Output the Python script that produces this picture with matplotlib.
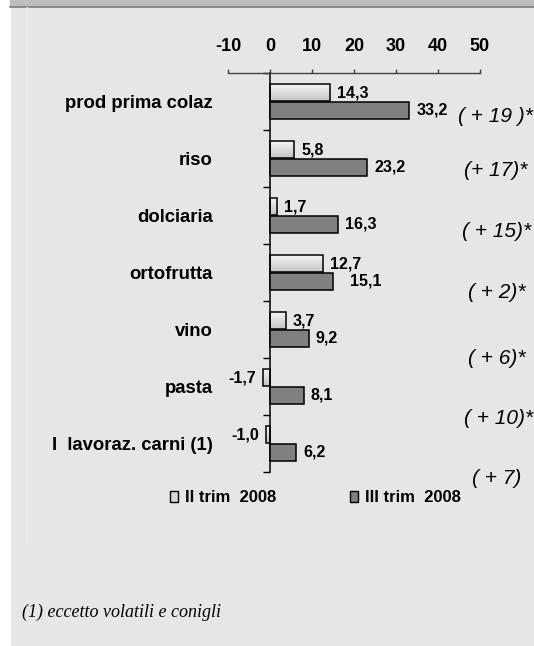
import numpy as np
import matplotlib.pyplot as plt
from matplotlib.patches import Rectangle, Patch
from matplotlib.lines import Line2D
from matplotlib.colors import LinearSegmentedColormap

plt.rcParams['font.family'] = ['Liberation Sans', 'DejaVu Sans']

# data
categories = ['prod prima colaz', 'riso', 'dolciaria', 'ortofrutta', 'vino',
              'pasta', 'I  lavoraz. carni (1)']
q2_2008 = [14.3, 5.8, 1.7, 12.7, 3.7, -1.7, -1.0]
q3_2008 = [33.2, 23.2, 16.3, 15.1, 9.2, 8.1, 6.2]
changes = ['( + 19 )*', '(+ 17)*', '( + 15)*', '( + 2)*', '( + 6)*',
           '( + 10)*', '( + 7)']
series_names = ['II trim  2008', 'III trim  2008']
xticks = [-10, 0, 10, 20, 30, 40, 50]
footnote = '(1) eccetto volatili e conigli'

# layout (pixels from top-left of the picture)
W, H = 534, 646
change_pos = [(458, 117), (464, 171), (462, 232), (468, 293),
              (468, 358), (464, 418), (472, 479)]

bg = '#e6e6e6'
light = '#d6d6d6'
dark = '#808080'


def px(x, y):
    return x / W, 1 - y / H


fig = plt.figure(figsize=(W / 100, H / 100), dpi=100)
fig.patch.set_facecolor(bg)

# frame decorations of the page
fig.patches.append(Rectangle((0, 0), 10 / W, 1, transform=fig.transFigure,
                             color='white', zorder=0))
fig.patches.append(Rectangle(px(10, 6), 1, 6 / H, transform=fig.transFigure,
                             color='#bdbdbd', zorder=0))
fig.lines.append(Line2D([10 / W, 1], [1 - 6.5 / H] * 2, transform=fig.transFigure,
                        color='#7f7f7f', lw=1.2))
fig.lines.append(Line2D([26.5 / W] * 2, [1 - 7 / H, 1 - 542 / H],
                        transform=fig.transFigure, color='#ededed', lw=1))

ax_l, ax_t, ax_r, ax_b = 228, 73, 480, 472
ax = fig.add_axes([ax_l / W, 1 - ax_b / H, (ax_r - ax_l) / W, (ax_b - ax_t) / H])
ax.set_facecolor('none')

y = np.arange(len(categories))
bh = 0.3
bars_l = ax.barh(y - bh / 2, q2_2008, height=bh, color='none',
                 edgecolor='black', lw=1.1, zorder=3)
bars_d = ax.barh(y + bh / 2, q3_2008, height=bh, color=dark,
                 edgecolor='black', lw=1.1, zorder=3)

# gradient fill for the light bars
cmap = LinearSegmentedColormap.from_list('g', ['#f7f7f7', '#c4c4c4'])
grad = np.linspace(0, 1, 64).reshape(-1, 1)
for b in bars_l:
    x0, y0, w, h = b.get_x(), b.get_y(), b.get_width(), b.get_height()
    ax.imshow(grad, cmap=cmap, vmin=0, vmax=1, aspect='auto', zorder=2,
              extent=(x0, x0 + w, y0 + h, y0), interpolation='bilinear')

ax.set_xlim(-10, 50)
ax.set_ylim(len(categories) - 0.5, -0.5)

# value labels
def fmt(v):
    return f'{v:.1f}'.replace('.', ',')

for i, (a, b) in enumerate(zip(q2_2008, q3_2008)):
    off = 5 if a >= 0 else -5
    ax.annotate(fmt(a), (a, i - bh / 2), xytext=(off, 0), textcoords='offset points',
                ha='left' if a >= 0 else 'right', va='center',
                fontsize=11.5, fontweight='bold', zorder=4)
    extra = 7 if abs(b - a) < 5 else 0
    ax.annotate(fmt(b), (b, i + bh / 2), xytext=(5 + extra, 0), textcoords='offset points',
                ha='left', va='center', fontsize=11.5, fontweight='bold', zorder=4)

# axes styling
for s in ['bottom', 'right']:
    ax.spines[s].set_visible(False)
ax.spines['top'].set_color('#404040')
ax.spines['top'].set_linewidth(1)
ax.spines['left'].set_position(('data', 0))
ax.spines['left'].set_linewidth(1.1)

ax.xaxis.tick_top()
ax.set_xticks(xticks)
ax.set_xticklabels([str(t) for t in xticks], fontsize=13, fontweight='bold')
ax.tick_params(axis='x', direction='out', length=3, width=1, color='#404040', pad=10)

ax.set_yticks(y)
ax.set_yticklabels(categories, fontsize=13.3, fontweight='bold')
ax.set_yticks(np.arange(-0.5, len(categories), 1), minor=True)
ax.tick_params(axis='y', which='major', length=0, pad=41)
ax.tick_params(axis='y', which='minor', length=5, width=1, direction='out')

# change annotations
for txt, (cx, cy) in zip(changes, change_pos):
    fig.text(*px(cx, cy), txt, fontsize=15, style='italic', ha='left', va='center')

# legend
handles = [Patch(facecolor=light, edgecolor='black', lw=1),
           Patch(facecolor=dark, edgecolor='black', lw=1)]
fig.legend(handles, series_names, ncol=2, frameon=False, loc='center left',
           bbox_to_anchor=px(170, 498), borderpad=0, borderaxespad=0,
           handlelength=0.5, handleheight=0.6, handletextpad=0.4,
           columnspacing=4.4, prop={'weight': 'bold', 'size': 12})

# footnote
fig.text(*px(22, 612), footnote, fontsize=13, style='italic',
         family=['Liberation Serif', 'DejaVu Serif'], ha='left', va='center')

fig.savefig('out.png', dpi=100, facecolor=fig.get_facecolor())
